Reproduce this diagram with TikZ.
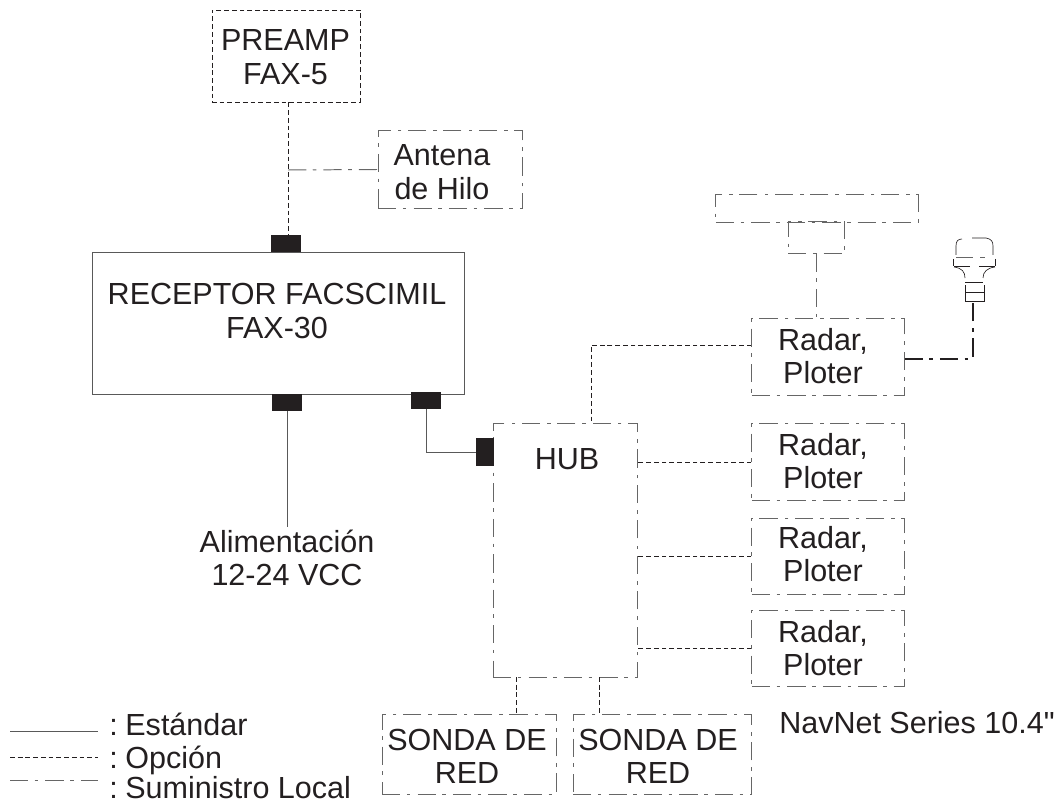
\documentclass[tikz,border=0pt]{standalone}
\usepackage{fontspec}
\setmainfont[Ligatures=TeXOff]{Liberation Sans}
\usetikzlibrary{calc}
\definecolor{tinta}{HTML}{231F20}
\tikzset{
    estandar/.style={line width=0.6pt,draw=black!65},
    opcion/.style={line width=0.5pt,draw=tinta,dash pattern=on 3.4pt off 2.1pt},
    local/.style={line width=0.7pt,draw=black!60,dash pattern=on 13pt off 4.6pt on 2.6pt off 5pt},
    caja/.style={draw,inner sep=0pt,fill=none},
    cajalocal/.style={caja,local},
    cajaopcion/.style={caja,opcion},
    conector/.style={fill=tinta,inner sep=0pt,minimum width=0.75cm,minimum height=0.43cm},
    rotulo/.style={text=tinta,align=center,inner sep=0pt,font=\fontsize{21.7}{23.7}\selectfont},
}
\begin{document}
\begin{tikzpicture}[x=0.025cm,y=-0.025cm]
    \useasboundingbox (0,0) rectangle (1060,801);

    % main units
    \node[caja,estandar,minimum width=9.3cm,minimum height=3.55cm] (receptor) at (278,323) {};
    \node[cajaopcion,minimum width=3.7cm,minimum height=2.3cm] (preamp) at (286,56) {};
    \node[cajalocal,minimum width=3.62cm,minimum height=1.93cm] (antena) at (450.5,169.5) {};
    \node[cajalocal,minimum width=3.62cm,minimum height=6.33cm] (hub) at (565.5,550.5) {};
    \node[cajalocal,minimum width=4.37cm,minimum height=1.98cm] (sondaA) at (469.5,754.5) {};
    \node[cajalocal,minimum width=4.47cm,minimum height=1.98cm] (sondaB) at (662.5,754.5) {};

    \node[rotulo] (preampTxt) at (285.5,57) {PREAMP\\FAX-5};
    \node[rotulo] (antenaTxt) at (442,172) {Antena\\de Hilo};
    \node[rotulo] (receptorTxt) at (277,311) {RECEPTOR FACSCIMIL\\FAX-30};
    \node[rotulo] (hubTxt) at (567,459) {HUB};
    \node[rotulo] (sondaAtxt) at (467,756.5) {SONDA DE\\RED};
    \node[rotulo] (sondaBtxt) at (658,756.5) {SONDA DE\\RED};
    \node[rotulo] (alimentacion) at (287,558) {Alimentación\\12-24 VCC};
    \node[rotulo,anchor=base west] (navnet) at (779,733) {NavNet Series 10.4"};

    % radar and plotter column
    \foreach \nom/\y/\ytxt in {radarA/357/356,radarB/462/461,radarC/556/554,radarD/648.5/648}{
        \node[cajalocal,minimum width=3.8cm,minimum height=1.9cm] (\nom) at (828,\y) {};
        \node[rotulo] (\nom Txt) at (823,\ytxt) {Radar,\\Ploter};
    }
    \foreach \nom in {radarB,radarC,radarD}{
        \draw[opcion] (\nom.west) -- (\nom.west -| hub.east);
    }

    % plugs
    \node[conector] (plugA) at (286,243.5) {};
    \node[conector] (plugB) at (287,402.5) {};
    \node[conector] (plugC) at (426,400.5) {};
    \node[conector,minimum width=0.45cm,minimum height=0.7cm] (plugD) at (485,452) {};

    \coordinate (cruce) at (288,170);
    \coordinate (hubRadar) at (591,424);
    \coordinate (hubSondaA) at (516,677);
    \coordinate (hubSondaB) at (599,677);
    \coordinate (alimFin) at (287,527);

    \draw[opcion] (cruce |- preamp.south) -- (cruce |- plugA.north);
    \draw[local] (cruce) -- (antena.west);
    \draw[estandar] (plugB.south) -- (alimFin);
    \draw[estandar] (plugC.south) |- (plugD.west);
    \draw[opcion] ([yshift=0.3cm]radarA.west) -| (hubRadar);
    \draw[opcion] (hubSondaA) -- (hubSondaA |- sondaA.north);
    \draw[opcion] (hubSondaB) -- (hubSondaB |- sondaB.north);

    % radar antenna
    \node[cajalocal,minimum width=5.05cm,minimum height=0.68cm] (radomo) at (817,208.5) {};
    \node[cajalocal,minimum width=1.42cm,minimum height=0.78cm] (pedestal) at (816.5,237.5) {};
    \draw[local] (pedestal.south) -- (pedestal.south |- radarA.north);

    % sensor drawn by hand
    \coordinate (sensor) at (973,302);
    \draw[local,line width=0.9pt,draw=tinta] ([yshift=-0.05cm]radarA.east) -| (sensor);
    \begin{scope}[line width=0.45pt,draw=tinta]
        \draw (956,255) -- (956,246) .. controls (956,241) and (958,239) .. (962,239);
        \draw (972,238) -- (986,238) .. controls (991,239) and (993,241) .. (993,246) -- (993,255);
        \draw[line width=0.7pt,draw=black!60] (956,257) -- (973,257) (980,257) -- (985,257);
        \draw (953,259) -- (953,266) (995,259) -- (995,266);
        \draw (954,266) -- (970,266) (979,266) -- (995,266);
        \draw (954,267) .. controls (962,268) and (965,272) .. (965,278);
        \draw (995,267) .. controls (987,268) and (983,272) .. (983,278);
        \draw (965,282) -- (983,282);
        \draw (965,285) -- (965,301) -- (984,301) -- (984,285);
        \draw (965,292) -- (984,292);
        \draw[line width=0.8pt] (973,301) -- (sensor);
    \end{scope}

    % legend
    \foreach \nom/\y/\base/\txt/\est in {
        est/731/735/{:\hspace{-2.6pt} Estándar}/estandar,
        opc/757/768/{:\hspace{-2.6pt} Opción}/opcion,
        sum/780/798/{:\hspace{-2.6pt} Suministro Local}/local}{
        \coordinate (\nom A) at (10,\y);
        \coordinate (\nom B) at (98,\y);
        \draw[\est] (\nom A) -- (\nom B);
        \node[rotulo,anchor=base west] (\nom Txt) at (109,\base) {\txt};
    }
\end{tikzpicture}
\end{document}
